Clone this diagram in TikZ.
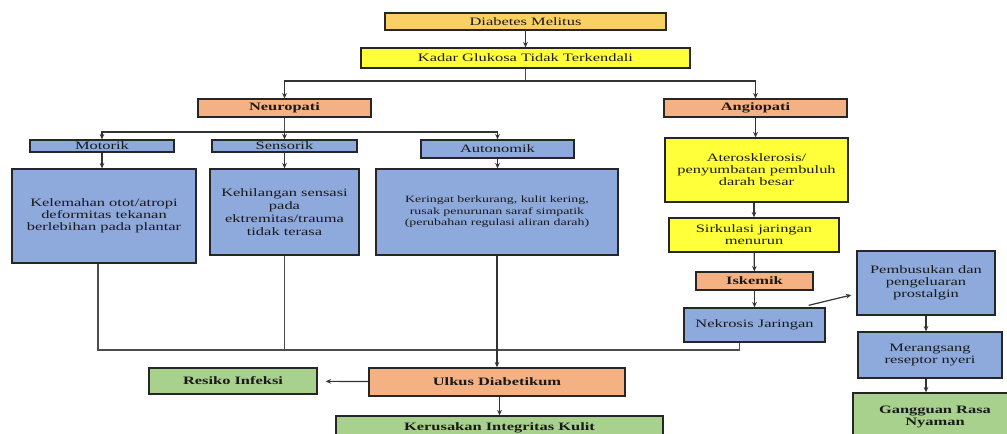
\documentclass[tikz,border=0pt]{standalone}
\usepackage{fontspec}
\setmainfont[FakeStretch=1.45]{Liberation Serif}
\usetikzlibrary{arrows.meta}

\definecolor{dmgold}{HTML}{F9D063}
\definecolor{glukyellow}{HTML}{FFFF3A}
\definecolor{salmon}{HTML}{F4B183}
\definecolor{softblue}{HTML}{8EA9DB}
\definecolor{leafgreen}{HTML}{A9D18E}

\tikzset{
  box/.style={draw=black!85, line width=1pt, align=center, inner sep=0pt,
    text=black!90, font=\fontsize{8.5}{9}\selectfont},
  bold/.style={font=\fontsize{8.5}{9}\selectfont\bfseries},
  goldbox/.style={box, fill=dmgold},
  yellowbox/.style={box, fill=glukyellow},
  salmonbox/.style={box, fill=salmon, bold},
  bluebox/.style={box, fill=softblue},
  greenbox/.style={box, fill=leafgreen, bold},
  arr/.style={-{Stealth[length=4pt,width=3.5pt]}, line width=0.9pt, black!80},
  link/.style={line width=0.9pt, black!70},
}

\begin{document}
\begin{tikzpicture}[x=0.75pt,y=-0.75pt]

        \useasboundingbox (0,0) rectangle (1007,434);

        % Top
        \node[goldbox, minimum width=210.75pt, minimum height=12.75pt] (dm) at (525.5,21.5) {Diabetes Melitus};
        \node[yellowbox, minimum width=246.75pt, minimum height=15pt] (kadar) at (525.5,58) {Kadar Glukosa Tidak Terkendali};

        % Neuropati branch
        \node[salmonbox, minimum width=129.75pt, minimum height=13.5pt] (neuro) at (284.5,108) {Neuropati};
        \node[bluebox, minimum width=108pt, minimum height=9pt] (motorik) at (102,146) {Motorik};
        \node[bluebox, minimum width=108.75pt, minimum height=9pt] (sensorik) at (284.5,146) {Sensorik};
        \node[bluebox, minimum width=114.75pt, minimum height=13.5pt] (autonomik) at (497.5,149) {Autonomik};
        \node[bluebox, minimum width=138pt, minimum height=70.5pt] (kelemahan) at (104,216)
            {Kelemahan otot/atropi\\deformitas tekanan\\berlebihan pada plantar};
        \node[bluebox, font=\fontsize{8.5}{9.75}\selectfont, minimum width=111.75pt, minimum height=64.5pt] (kehilangan) at (284.5,212)
            {Kehilangan sensasi\\pada\\ektremitas/trauma\\tidak terasa};
        \node[bluebox, font=\fontsize{7.2}{8.5}\selectfont, minimum width=181.5pt, minimum height=64.5pt] (keringat) at (497,212)
            {Keringat berkurang, kulit kering,\\rusak penurunan saraf simpatik\\(perubahan regulasi aliran darah)};

        % Angiopati branch
        \node[salmonbox, minimum width=137.25pt, minimum height=13.5pt] (angio) at (755.5,108) {Angiopati};
        \node[yellowbox, minimum width=137.25pt, minimum height=48pt] (atero) at (756.5,170)
            {Aterosklerosis/\\penyumbatan pembuluh\\darah besar};
        \node[yellowbox, minimum width=127.5pt, minimum height=25.5pt] (sirkulasi) at (754,235) {Sirkulasi jaringan\\menurun};
        \node[salmonbox, minimum width=87.75pt, minimum height=13.5pt] (iskemik) at (754.5,281) {Iskemik};
        \node[bluebox, minimum width=105.75pt, minimum height=25.5pt] (nekrosis) at (754.5,325) {Nekrosis Jaringan};
        \node[bluebox, minimum width=103.5pt, minimum height=48pt] (pembusukan) at (926,283)
            {Pembusukan dan\\pengeluaran\\prostalgin};
        \node[bluebox, minimum width=108pt, minimum height=34.5pt] (merangsang) at (930,355) {Merangsang\\reseptor nyeri};
        \node[greenbox, minimum width=123pt, minimum height=36pt] (gangguan) at (935,417) {Gangguan Rasa\\Nyaman};

        % Bottom
        \node[salmonbox, minimum width=192pt, minimum height=21pt] (ulkus) at (497,382) {Ulkus Diabetikum};
        \node[greenbox, minimum width=126pt, minimum height=19.5pt] (resiko) at (233,381) {Resiko Infeksi};
        \node[greenbox, minimum width=245.25pt, minimum height=18pt] (kerusakan) at (499.5,428) {Kerusakan Integritas Kulit};

        % Connectors
        \coordinate (split) at (525.5,81);
        \coordinate (neurosplit) at (284.5,132);
        \coordinate (merge) at (497,350);

        \draw[arr] (dm) -- (kadar);
        \draw[link] (kadar.south) -- (split);
        \draw[arr] (split) -| (neuro.north);
        \draw[arr] (split) -| (angio.north);

        \draw[link] (neuro.south) -- (neurosplit);
        \draw[arr] (neurosplit) -| (motorik.north);
        \draw[arr] (neurosplit) -- (sensorik.north);
        \draw[arr] (neurosplit) -| (autonomik.north);
        \draw[arr] (motorik.south) -- (motorik.south |- kelemahan.north);
        \draw[arr] (sensorik) -- (kehilangan);
        \draw[arr] (autonomik) -- (autonomik.south |- keringat.north);

        \draw[arr] (angio) -- (angio.south |- atero.north);
        \draw[arr] (atero.south -| sirkulasi) -- (sirkulasi);
        \draw[arr] (sirkulasi) -- (iskemik);
        \draw[arr] (iskemik) -- (nekrosis);
        \draw[arr] ([xshift=-12.75pt,yshift=1.5pt]nekrosis.north east) -- ([xshift=-3.75pt,yshift=-9pt]pembusukan.west);
        \draw[arr] (pembusukan.south) -- (pembusukan.south |- merangsang.north);
        \draw[arr] (pembusukan.south |- merangsang.south) -- (pembusukan.south |- gangguan.north);

        \draw[link] ([xshift=-4.5pt]kelemahan.south) |- (merge);
        \draw[link] (kehilangan.south) -- (kehilangan.south |- merge);
        \draw[link] ([xshift=-11.25pt]nekrosis.south) |- (merge);
        \draw[arr] (keringat.south) -- (ulkus.north);

        \draw[arr, shorten >=6pt] (ulkus) -- (resiko);
        \draw[arr] (ulkus.south -| kerusakan) -- (kerusakan);
    \end{tikzpicture}
\end{document}
